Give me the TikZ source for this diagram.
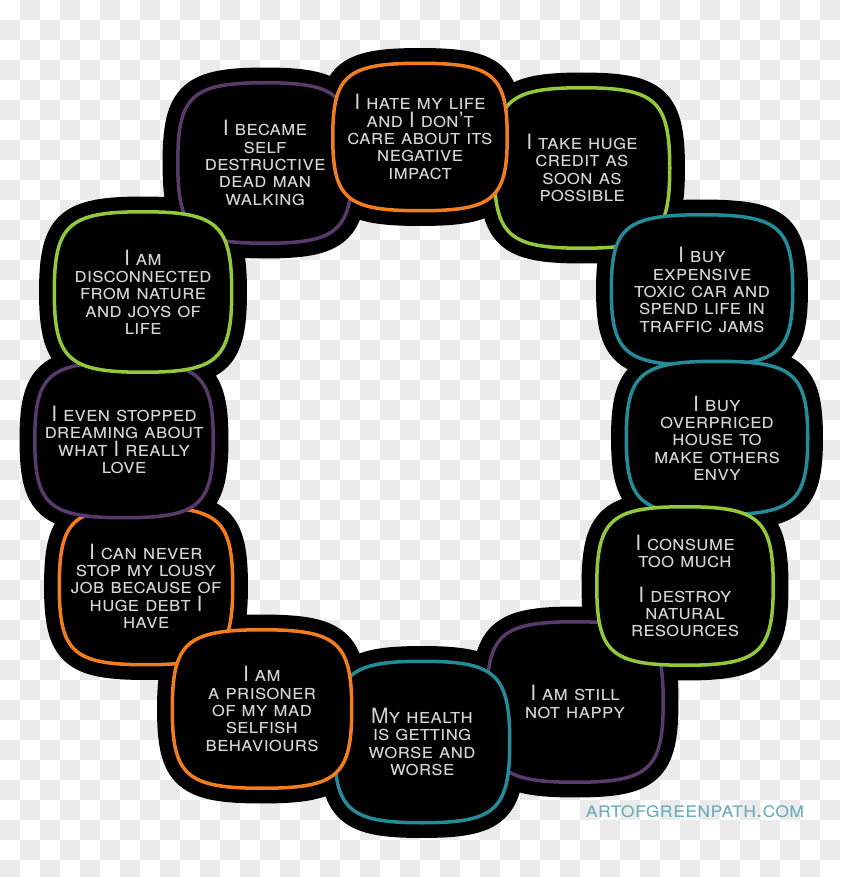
\documentclass[tikz,border=0pt]{standalone}
\usepackage{fontspec}
\setmainfont{TeX Gyre Heros}
\usepackage{xcolor}
\usepackage{tikz}
\usetikzlibrary{calc}
\definecolor{orng}{RGB}{241,125,30}
\definecolor{purp}{RGB}{88,58,108}
\definecolor{lime}{RGB}{148,200,60}
\definecolor{teal}{RGB}{36,140,152}
\definecolor{txtgray}{RGB}{212,212,212}
\definecolor{sitecol}{RGB}{110,175,185}
\definecolor{boardgray}{RGB}{235,235,235}
\pgfdeclarelayer{board}
\pgfdeclarelayer{halo}
\pgfdeclarelayer{ring}
\pgfsetlayers{board,halo,ring,main}
\newcommand{\blobk}{0.84}
\newcommand{\blobpath}[1]{(#1.east) .. controls ($(#1.east)!\blobk!(#1.north east)$) and ($(#1.north)!\blobk!(#1.north east)$) .. (#1.north)
 .. controls ($(#1.north)!\blobk!(#1.north west)$) and ($(#1.west)!\blobk!(#1.north west)$) .. (#1.west)
 .. controls ($(#1.west)!\blobk!(#1.south west)$) and ($(#1.south)!\blobk!(#1.south west)$) .. (#1.south)
 .. controls ($(#1.south)!\blobk!(#1.south east)$) and ($(#1.east)!\blobk!(#1.south east)$) .. (#1.east) -- cycle}

\begin{document}
\begin{tikzpicture}[x=0.03cm,y=-0.03cm,
  say/.style={font=\scshape\fontsize{18}{14.8}\selectfont,text=txtgray,align=center,inner sep=0pt},
  blobsize/.style 2 args={minimum width=#1*0.03cm,minimum height=#2*0.03cm},
  halo/.style={draw=black,fill=black,line width=26pt,line join=round},
  ring/.style={draw=#1,fill=black,line width=3pt},
  site/.style={font=\scshape\fontsize{19}{19}\selectfont,text=sitecol}]
\useasboundingbox (0,0) rectangle (840,877);
\begin{pgfonlayer}{board}
\fill[white] (0,0) rectangle (840,877);
\clip (0,0) rectangle (840,877);
\foreach \i in {0,...,41} { \foreach \j in {0,...,43} {
  \pgfmathtruncatemacro\s{mod(\i+\j,2)}
  \ifnum\s=1 \fill[boardgray] (20*\i,20*\j) rectangle +(20,20); \fi } }
\end{pgfonlayer}

\node[say,blobsize={174}{147}] (hate) at (420,137) {I hate my life\\and I don't\\care about its\\negative\\impact};
\node[say,blobsize={174}{160}] (destruct) at (265,163) {I became\\self\\destructive\\dead man\\walking};
\node[say,blobsize={175}{160}] (credit) at (582,168) {I take huge\\credit as\\soon as\\possible};
\node[say,blobsize={181}{150}] (car) at (702,290) {I buy\\expensive\\toxic car and\\spend life in\\traffic jams};
\node[say,blobsize={181}{153}] (house) at (717,438) {I buy\\overpriced\\house to\\make others\\envy};
\node[say,blobsize={176}{158}] (consume) at (685,586) {I consume\\too much\\[14.8pt]I destroy\\natural\\resources};
\node[say,blobsize={176}{160}] (happy) at (575,702) {I am still\\not happy};
\node[say,blobsize={175}{161}] (health) at (422,742) {My health\\is getting\\worse and\\worse};
\node[say,blobsize={179}{158}] (prisoner) at (262,709) {I am\\a prisoner\\of my mad\\selfish\\behaviours};
\node[say,blobsize={173}{157}] (debt) at (146,586) {I can never\\stop my lousy\\job because of\\huge debt I\\have};
\node[say,blobsize={178}{155}] (dream) at (124,440) {I even stopped\\dreaming about\\what I really\\love};
\node[say,blobsize={177}{160}] (nature) at (143,292) {I am\\disconnected\\from nature\\and joys of\\life};
\node[site] (url) at (695,812) {artofgreenpath.com};

\begin{pgfonlayer}{halo}
\foreach \n in {hate,destruct,credit,car,house,consume,happy,health,prisoner,debt,dream,nature}
  \filldraw[halo] \blobpath{\n};
\end{pgfonlayer}
\begin{pgfonlayer}{ring}
\foreach \n/\c in {destruct/purp,credit/lime,hate/orng,car/teal,house/teal,happy/purp,consume/lime,
  health/teal,debt/orng,prisoner/orng,dream/purp,nature/lime}
  \filldraw[ring=\c] \blobpath{\n};
\end{pgfonlayer}
\end{tikzpicture}
\end{document}
